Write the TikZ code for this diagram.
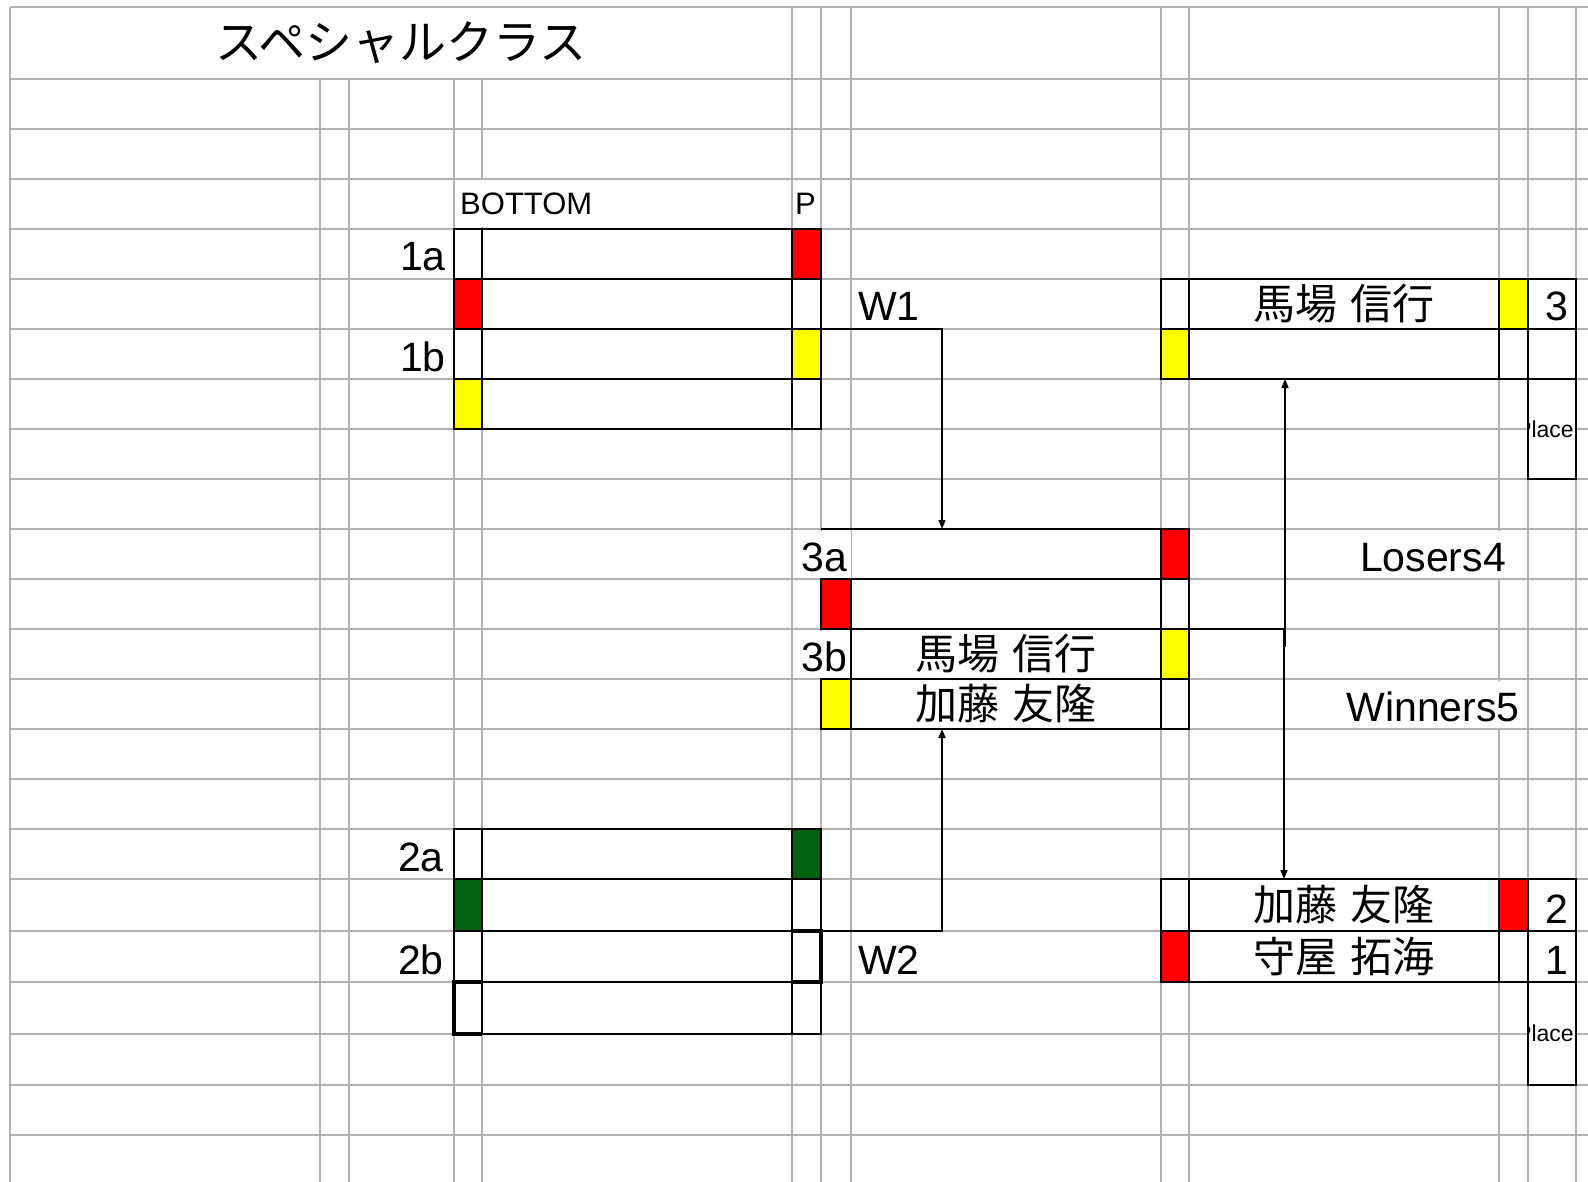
\documentclass[tikz,border=0pt]{standalone}
\usepackage{fontspec}
\setmainfont{Liberation Sans}
\newfontfamily\jpfont[WordSpace=1.4]{Noto Sans CJK JP}
\usepackage{tikz}
\usetikzlibrary{arrows.meta}

\definecolor{gridgray}{RGB}{178,178,178}
\definecolor{winred}{RGB}{255,0,0}
\definecolor{winyellow}{RGB}{255,255,0}
\definecolor{wingreen}{RGB}{0,97,16}

\newcommand{\latinsize}{\fontsize{41}{45}\selectfont}
\newcommand{\namesize}{\jpfont\fontsize{42}{46}\selectfont}

\tikzset{
	gridline/.style={draw=gridgray, line width=2.5},
	cell/.style={draw, line width=2, anchor=north west, inner sep=0, outer sep=0, minimum height=50, font=\namesize},
	heavy/.style={line width=4},
	lbl/.style={anchor=base east, fill=white, inner xsep=4, inner ysep=0, text height=40.5pt, text depth=6.5pt, font=\latinsize},
	link/.style={line width=1.5, -{Triangle[length=9pt,width=7pt]}},
}

\begin{document}
\begin{tikzpicture}[x=1pt, y=-1pt]
	\useasboundingbox (0,0) rectangle (1588,1182);
	% grid
	\foreach \y in {7,79,129,179,229,279,329,379,429,479,529,579,629,679,729,779,829,879,931,982,1034,1085,1135}
		\draw[gridline] (10,\y) -- (1588,\y);
	\foreach \x in {10,792,821,851,1161,1189,1499,1528,1576}
		\draw[gridline] (\x,7) -- (\x,1182);
	\foreach \x in {320,349,454,482}
		\draw[gridline] (\x,79) -- (\x,1182);

	% titolo e etichette
	\node[font=\jpfont\fontsize{47}{50}\selectfont] (title) at (401,43) {スペシャルクラス};
	\node[lbl, anchor=base west, font=\fontsize{31}{34}\selectfont, text height=34.5pt, text depth=12.5pt] (bottom) at (456,215) {BOTTOM};
	\node[anchor=base west, inner sep=0, font=\fontsize{31}{34}\selectfont] (ptop) at (795,215) {P};
	\node[lbl] (lab1a) at (450,271) {1a};
	\node[lbl] (lab1b) at (450,371) {1b};
	\node[lbl] (lab2a) at (448,871) {2a};
	\node[lbl] (lab2b) at (448,974) {2b};
	\node[lbl] (lab3a) at (851,571) {3a};
	\node[lbl] (lab3b) at (851,671) {3b};
	\node[lbl, anchor=base west] (labw1) at (854,321) {W1};
	\node[lbl, anchor=base west] (labw2) at (854,974) {W2};
	\node[lbl, anchor=base] (losers) at (1433,571) {Losers4};
	\node[lbl, anchor=base] (winners) at (1433,721) {Winners5};

	% match 1
	\node[cell, minimum width=28] (s11) at (454,229) {};
	\node[cell, minimum width=310] (n11) at (482,229) {};
	\node[cell, minimum width=29, fill=winred] (p11) at (792,229) {};
	\node[cell, minimum width=28, fill=winred] (s12) at (454,279) {};
	\node[cell, minimum width=310] (n12) at (482,279) {};
	\node[cell, minimum width=29] (p12) at (792,279) {};
	\node[cell, minimum width=28] (s13) at (454,329) {};
	\node[cell, minimum width=310] (n13) at (482,329) {};
	\node[cell, minimum width=29, fill=winyellow] (p13) at (792,329) {};
	\node[cell, minimum width=28, fill=winyellow] (s14) at (454,379) {};
	\node[cell, minimum width=310] (n14) at (482,379) {};
	\node[cell, minimum width=29] (p14) at (792,379) {};

	% match 2
	\node[cell, minimum width=28] (s21) at (454,829) {};
	\node[cell, minimum width=310] (n21) at (482,829) {};
	\node[cell, minimum width=29, fill=wingreen] (p21) at (792,829) {};
	\node[cell, minimum width=28, minimum height=52, fill=wingreen] (s22) at (454,879) {};
	\node[cell, minimum width=310, minimum height=52] (n22) at (482,879) {};
	\node[cell, minimum width=29, minimum height=52] (p22) at (792,879) {};
	\node[cell, minimum width=28, minimum height=51] (s23) at (454,931) {};
	\node[cell, minimum width=310, minimum height=51] (n23) at (482,931) {};
	\node[cell, minimum width=29, minimum height=51] (p23) at (792,931) {};
	\node[cell, minimum width=28, minimum height=52] (s24) at (454,982) {};
	\node[cell, minimum width=310, minimum height=52] (n24) at (482,982) {};
	\node[cell, minimum width=29, minimum height=52] (p24) at (792,982) {};
	\draw[heavy] (p23.north west) -- (p23.north east) -- (p23.south east) -- (p23.south west);
	\draw[heavy] (s24.north east) -- (s24.north west) -- (s24.south west) -- (s24.south east);

	% match 3
	\node[cell, draw=none, minimum width=340] (n31) at (821,529) {};
	\node[cell, minimum width=28, fill=winred] (p31) at (1161,529) {};
	\draw[line width=2] (n31.north west) -- (p31.north west);
	\node[cell, minimum width=30, fill=winred] (s32) at (821,579) {};
	\node[cell, minimum width=310] (n32) at (851,579) {};
	\node[cell, minimum width=28] (p32) at (1161,579) {};
	\node[cell, minimum width=310] (n33) at (851,629) {馬場 信行};
	\node[cell, minimum width=28, fill=winyellow] (p33) at (1161,629) {};
	\node[cell, minimum width=30, fill=winyellow] (s34) at (821,679) {};
	\node[cell, minimum width=310] (n34) at (851,679) {加藤 友隆};
	\node[cell, minimum width=28] (p34) at (1161,679) {};

	% 3rd place
	\node[cell, minimum width=28] (s41) at (1161,279) {};
	\node[cell, minimum width=310] (n41) at (1189,279) {馬場 信行};
	\node[cell, minimum width=29, fill=winyellow] (p41) at (1499,279) {};
	\node[cell, minimum width=48] (r41) at (1528,279) {};
	\node[cell, minimum width=28, fill=winyellow] (s42) at (1161,329) {};
	\node[cell, minimum width=310] (n42) at (1189,329) {};
	\node[cell, minimum width=29] (p42) at (1499,329) {};
	\node[cell, minimum width=48] (r42) at (1528,329) {};
	\node[cell, minimum width=48, minimum height=100, fill=white] (pl4) at (1528,379) {};

	% final
	\node[cell, minimum width=28, minimum height=52] (s51) at (1161,879) {};
	\node[cell, minimum width=310, minimum height=52] (n51) at (1189,879) {加藤 友隆};
	\node[cell, minimum width=29, minimum height=52, fill=winred] (p51) at (1499,879) {};
	\node[cell, minimum width=48, minimum height=52] (r51) at (1528,879) {};
	\node[cell, minimum width=28, minimum height=51, fill=winred] (s52) at (1161,931) {};
	\node[cell, minimum width=310, minimum height=51] (n52) at (1189,931) {守屋 拓海};
	\node[cell, minimum width=29, minimum height=51] (p52) at (1499,931) {};
	\node[cell, minimum width=48, minimum height=51] (r52) at (1528,931) {};
	\node[cell, minimum width=48, minimum height=103, fill=white] (pl5) at (1528,982) {};

	% posti
	\node[lbl] (place3) at (1572,321) {3};
	\node[lbl] (place2) at (1572,923) {2};
	\node[lbl] (place1) at (1572,974) {1};
	\begin{scope}
		\clip (pl4.north west) rectangle (pl4.south east);
		\node[font=\fontsize{23}{26}\selectfont, inner sep=0] (pt4) at (1545,429) {Place};
	\end{scope}
	\begin{scope}
		\clip (pl5.north west) rectangle (pl5.south east);
		\node[font=\fontsize{23}{26}\selectfont, inner sep=0] (pt5) at (1545,1033) {Place};
	\end{scope}

	% collegamenti
	\coordinate (in3a) at (942,529);
	\coordinate (in3b) at (942,729);
	\coordinate (fork) at (1284,629);
	\coordinate (stub) at (1285,647);
	\draw[link] (p12.south east) -| (in3a); % da W1 a 3a
	\draw[link] (p22.south east) -| (in3b); % da W2 a 3b
	\draw[line width=1.5] (p33.north east) -- (fork);
	\draw[link] (stub) -- (n42.south -| stub); % perdente
	\draw[link] (fork) -- (n51.north -| fork); % vincente
\end{tikzpicture}
\end{document}
